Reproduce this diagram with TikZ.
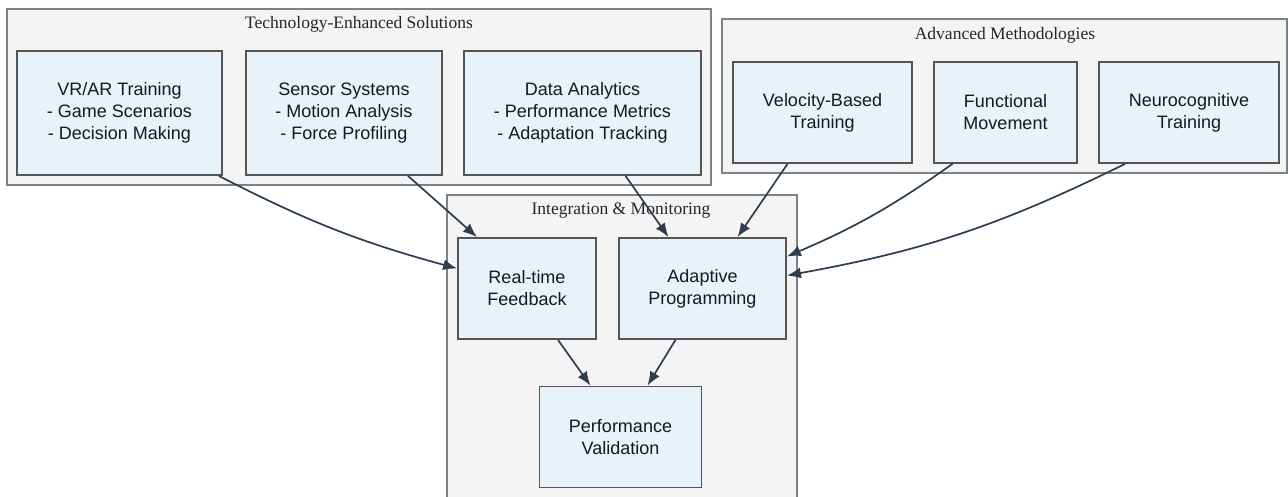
\documentclass[tikz,border=0pt]{standalone}
\usepackage{fontspec}
\setmainfont{Liberation Serif}
\newfontfamily\boxfont{Liberation Sans}
\usepackage{xcolor}
\usetikzlibrary{arrows.meta}

\definecolor{clusterfill}{HTML}{F4F4F4}
\definecolor{clusterline}{HTML}{7B8189}
\definecolor{boxfill}{HTML}{E8F2F9}
\definecolor{boxline}{HTML}{555555}
\definecolor{arrowcol}{HTML}{2C3E50}

\begin{document}
\begin{tikzpicture}[x=1pt, y=-1pt,
            cluster/.style={rectangle, draw=clusterline, fill=clusterfill, line width=1.5pt, inner sep=0pt},
            title/.style={font=\fontsize{17.5}{20}\selectfont, text=black!85, inner sep=0pt},
            box/.style={rectangle, draw=boxline, fill=boxfill, line width=1.8pt, inner sep=0pt, align=center,
                        font=\boxfont\fontsize{18}{22}\selectfont, text=black!90},
            link/.style={draw=arrowcol, line width=1.7pt, -{Latex[length=14pt,width=11pt]}}]
            \useasboundingbox (0,0) rectangle (1288,496);

            \node[cluster, minimum width=704, minimum height=176] (tech) at (359,97) {};
            \node[cluster, minimum width=565, minimum height=154] (adv) at (1004.5,96) {};
            \node[cluster, minimum width=350, minimum height=310] (integ) at (622,350) {};

            \node[title] (techtitle) at (359,24) {Technology-Enhanced Solutions};
            \node[title] (advtitle) at (1005,35) {Advanced Methodologies};
            \node[title] (integtitle) at (621,211) {Integration \& Monitoring};

            \node[box, minimum width=205, minimum height=124] (vrar) at (119.5,113) {VR/AR Training\\- Game Scenarios\\- Decision Making};
            \node[box, minimum width=196, minimum height=124] (sensor) at (344,113) {Sensor Systems\\- Motion Analysis\\- Force Profiling};
            \node[box, minimum width=237, minimum height=124] (data) at (582.5,113) {Data Analytics\\- Performance Metrics\\- Adaptation Tracking};

            \node[box, minimum width=179, minimum height=101] (velocity) at (822.5,112.5) {Velocity-Based\\Training};
            \node[box, minimum width=143, minimum height=101] (functional) at (1005.5,112.5) {Functional\\Movement};
            \node[box, minimum width=180, minimum height=101] (neuro) at (1189,112.5) {Neurocognitive\\Training};

            \node[box, minimum width=138, minimum height=101] (feedback) at (527,288.5) {Real-time\\Feedback};
            \node[box, minimum width=167, minimum height=101] (adaptive) at (702.5,288.5) {Adaptive\\Programming};
            \node[box, minimum width=162, minimum height=101] (validation) at (620.5,437) {Performance\\Validation};

            \draw[link] ([xshift=-4]vrar.south east) to[bend right=6] ([yshift=20]feedback.west);
            \draw[link] ([xshift=64]sensor.south) -- ([xshift=-50]feedback.north);
            \draw[link] ([xshift=43]data.south) -- ([xshift=-34]adaptive.north);
            \draw[link] ([xshift=-35]velocity.south) -- ([xshift=35]adaptive.north);
            \draw[link] ([xshift=-53]functional.south) to[bend left=6] ([yshift=32]adaptive.east);
            \draw[link] ([xshift=-64]neuro.south) to[bend left=8] ([yshift=13]adaptive.east);
            \draw[link] ([xshift=31]feedback.south) -- ([xshift=-30]validation.north);
            \draw[link] ([xshift=-27]adaptive.south) -- ([xshift=27]validation.north);
        \end{tikzpicture}
\end{document}
